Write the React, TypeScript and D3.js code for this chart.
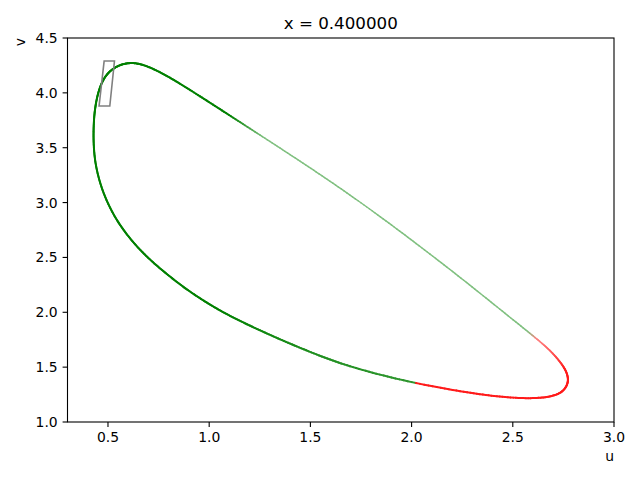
import React from "react";
import * as d3 from "d3";

// Limit-cycle trajectory (u, v), traversed as a closed loop
const uValues = [
  0.890, 0.806, 0.722, 0.663, 0.613, 0.564, 0.525, 0.495, 0.473, 0.455,
  0.442, 0.433, 0.429, 0.428, 0.433, 0.446, 0.468, 0.500, 0.542, 0.594,
  0.653, 0.722, 0.796, 0.875, 0.959, 1.043, 1.132, 1.225, 1.329, 1.448,
  1.610, 1.778, 2.020, 2.272, 2.435, 2.598, 2.696, 2.746, 2.770, 2.775,
  2.760, 2.721, 2.672, 2.598, 2.435, 2.272, 2.104, 1.941, 1.778, 1.610,
  1.448, 1.300, 1.151, 1.018,
];
const vValues = [
  4.045, 4.140, 4.222, 4.263, 4.277, 4.259, 4.222, 4.172, 4.108, 4.026,
  3.926, 3.817, 3.698, 3.571, 3.416, 3.279, 3.133, 2.987, 2.841, 2.705,
  2.577, 2.454, 2.340, 2.226, 2.121, 2.026, 1.939, 1.857, 1.770, 1.676,
  1.556, 1.460, 1.351, 1.269, 1.228, 1.211, 1.232, 1.273, 1.337, 1.401,
  1.483, 1.579, 1.675, 1.789, 2.030, 2.272, 2.513, 2.741, 2.963, 3.179,
  3.379, 3.557, 3.735, 3.894,
];

// Grey parallelogram
const boxU = [0.456, 0.509, 0.532, 0.481];
const boxV = [3.88, 3.88, 4.29, 4.29];

const xTicks = [0.5, 1.0, 1.5, 2.0, 2.5, 3.0];
const yTicks = [1.0, 1.5, 2.0, 2.5, 3.0, 3.5, 4.0, 4.5];
const titleText = "x = 0.400000";

const W = 640, H = 480;
const L = 67.5, R = 614, T = 38, B = 422;
const FONT = "DejaVu Sans, sans-serif";

// colour along the loop by parametric position s
const DARK = "#008000", MID = "#2f962f", LIGHT = "#80c080", RED = "#ff1a1a", LRED = "#ff8080";
function colorAt(s: number): string {
  const mix = (a: string, b: string, s0: number, s1: number) =>
    d3.interpolateRgb(a, b)(Math.max(0, Math.min(1, (s - s0) / (s1 - s0))));
  if (s < 25) return DARK;
  if (s < 32) return mix(DARK, MID, 25, 32);
  if (s < 40) return RED;
  if (s < 42.7) return mix(RED, LRED, 40, 42.7);
  if (s < 43.1) return mix(LRED, LIGHT, 42.7, 43.1);
  if (s < 51.2) return LIGHT;
  if (s < 52.4) return mix(LIGHT, DARK, 51.2, 52.4);
  return DARK;
}
function widthAt(s: number): number {
  if (s >= 43 && s < 51.2) return 1.5;
  if (s >= 51.2 && s < 52.4) return 1.5 + 0.5 * (s - 51.2) / 1.2;
  if (s >= 40 && s < 43) return 2 - 0.5 * (s - 40) / 3;
  return 2;
}

export default function App() {
  const x = d3.scaleLinear().domain([0.3, 3.0]).range([L, R]);
  const y = d3.scaleLinear().domain([1.0, 4.5]).range([B, T]);

  const pts = uValues.map((u, i) => [x(u), y(vValues[i])] as [number, number]);
  const n = pts.length;
  const segs: { x1: number; y1: number; x2: number; y2: number; c: string; w: number }[] = [];
  const steps = 12;
  // uniform cubic B-spline (closed), same as d3.curveBasisClosed
  const bs = (p0: number, p1: number, p2: number, p3: number, t: number) => {
    const t2 = t * t, t3 = t2 * t;
    return ((1 - t) ** 3 * p0 + (3 * t3 - 6 * t2 + 4) * p1 + (-3 * t3 + 3 * t2 + 3 * t + 1) * p2 + t3 * p3) / 6;
  };
  let prev: [number, number] | null = null;
  for (let i = 0; i < n; i++) {
    const P0 = pts[(i - 1 + n) % n], P1 = pts[i], P2 = pts[(i + 1) % n], P3 = pts[(i + 2) % n];
    for (let k = 0; k <= steps; k++) {
      const t = k / steps;
      const p: [number, number] = [bs(P0[0], P1[0], P2[0], P3[0], t), bs(P0[1], P1[1], P2[1], P3[1], t)];
      if (prev && k > 0) {
        const s = i + (k - 0.5) / steps;
        segs.push({ x1: prev[0], y1: prev[1], x2: p[0], y2: p[1], c: colorAt(s), w: widthAt(s) });
      }
      prev = p;
    }
  }

  const boxPath = d3.line()(boxU.map((u, i) => [x(u), y(boxV[i])] as [number, number])) + "Z";

  return (
    <svg width={W} height={H} style={{ position: "absolute", left: 0, top: 0, background: "#fff" }}>
      <rect x={0} y={0} width={W} height={H} fill="#fff" />
      <g>
        {segs.map((s, i) => (
          <line key={i} x1={s.x1} y1={s.y1} x2={s.x2} y2={s.y2} stroke={s.c} strokeWidth={s.w} strokeLinecap="round" />
        ))}
      </g>
      <path d={boxPath} fill="none" stroke="#808080" strokeWidth={1.6} strokeLinejoin="miter" />
      <rect x={L} y={T} width={R - L} height={B - T} fill="none" stroke="#000" strokeWidth={1.1} />
      {xTicks.map((t) => (
        <g key={"x" + t}>
          <line x1={x(t)} x2={x(t)} y1={B} y2={B + 4.9} stroke="#000" strokeWidth={1.1} />
          <text x={x(t)} y={442} textAnchor="middle" fontFamily={FONT} fontSize={13.9} fill="#000">
            {t.toFixed(1)}
          </text>
        </g>
      ))}
      {yTicks.map((t) => (
        <g key={"y" + t}>
          <line x1={L - 4.9} x2={L} y1={y(t)} y2={y(t)} stroke="#000" strokeWidth={1.1} />
          <text x={L - 9.8} y={y(t)} dy="0.36em" textAnchor="end" fontFamily={FONT} fontSize={13.9} fill="#000">
            {t.toFixed(1)}
          </text>
        </g>
      ))}
      <text x={(L + R) / 2} y={29} textAnchor="middle" fontFamily={FONT} fontSize={16.7} fill="#000">
        {titleText}
      </text>
      <text x={R} y={461} textAnchor="end" fontFamily={FONT} fontSize={13.9} fill="#000">u</text>
      <text transform={`translate(25,${T}) rotate(-90)`} textAnchor="end" fontFamily={FONT} fontSize={13.9} fill="#000">v</text>
    </svg>
  );
}
